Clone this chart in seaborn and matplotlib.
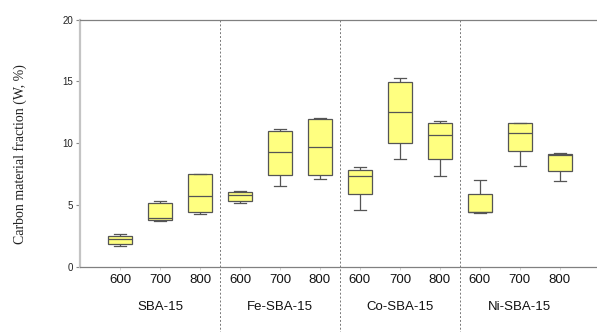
import numpy as np
import pandas as pd
import matplotlib
matplotlib.use("Agg")
import matplotlib.pyplot as plt
import seaborn as sns

# ---- data (five-number summaries) ----
groups = ["SBA-15", "Fe-SBA-15", "Co-SBA-15", "Ni-SBA-15"]
temps = ["600", "700", "800"]
whisker_low = [1.68, 3.70, 4.32, 5.19, 6.57, 7.08, 4.59, 8.73, 7.35, 4.35, 8.16, 6.91]
q1 = [1.89, 3.78, 4.41, 5.30, 7.43, 7.43, 5.89, 10.03, 8.76, 4.41, 9.41, 7.72]
median = [2.24, 3.92, 5.70, 5.78, 9.27, 9.66, 7.35, 12.54, 10.68, 4.45, 10.86, 9.02]
q3 = [2.51, 5.16, 7.49, 6.08, 10.96, 11.93, 7.84, 14.95, 11.65, 5.89, 11.65, 9.15]
whisker_high = [2.68, 5.35, 7.49, 6.16, 11.12, 12.06, 8.08, 15.27, 11.81, 7.00, 11.65, 9.23]
y_ticks = [0, 5, 10, 15, 20]

keys = [f"{g}|{t}" for g in groups for t in temps]
rows = []
for i, k in enumerate(keys):
    for v in (whisker_low[i], q1[i], median[i], q3[i], whisker_high[i]):
        rows.append({"cat": k, "value": v})
df = pd.DataFrame(rows)

plt.rcParams["font.family"] = ["Liberation Sans", "DejaVu Sans"]

W, H = 597, 332
fig = plt.figure(figsize=(W / 100, H / 100), dpi=100)
ax = fig.add_axes([80 / W, 1 - 267 / H, (W - 80) / W, (267 - 19.5) / H])

sns.boxplot(data=df, x="cat", y="value", order=keys, whis=(0, 100), width=0.6,
            color="#FFFF80", linecolor="#555555", linewidth=0.9, saturation=1,
            ax=ax, showfliers=False)

ax.set_xlim(-1.0, 11.93)
ax.set_ylim(0, 20)
ax.set_yticks(y_ticks)
ax.set_yticklabels([str(t) for t in y_ticks], fontsize=7, color="#222222")
ax.set_xticks(range(len(keys)))
ax.set_xticklabels(temps * len(groups), fontsize=9.5, color="#111111")
ax.tick_params(axis="y", length=3, width=0.8, color="#888888", pad=2)
ax.tick_params(axis="x", length=2, width=0.6, color="#cccccc", pad=3)
ax.set_xlabel("")
ax.set_ylabel("")

for side in ["right"]:
    ax.spines[side].set_visible(False)
ax.spines["left"].set_color("#c4c4c4")
ax.spines["left"].set_linewidth(1.6)
ax.spines["top"].set_color("#808080")
ax.spines["top"].set_linewidth(0.9)
ax.spines["bottom"].set_color("#808080")
ax.spines["bottom"].set_linewidth(0.9)

trans = ax.get_xaxis_transform()
for i in range(1, len(groups)):
    xs = i * len(temps) - 0.5
    ax.plot([xs, xs], [1, -0.27], transform=trans, clip_on=False,
            color="#777777", lw=0.7, ls=(0, (2, 2)))

for gi, g in enumerate(groups):
    ax.text(gi * len(temps) + 1, -0.162, g, transform=trans, ha="center",
            va="center", fontsize=9.5, color="#111111")

fig.text(20 / W, 1 - 154 / H, "Carbon material fraction (W, %)", rotation=90,
         ha="center", va="center", fontsize=10, family=["Liberation Serif"],
         color="#222222")

fig.savefig("out.png", dpi=100)
